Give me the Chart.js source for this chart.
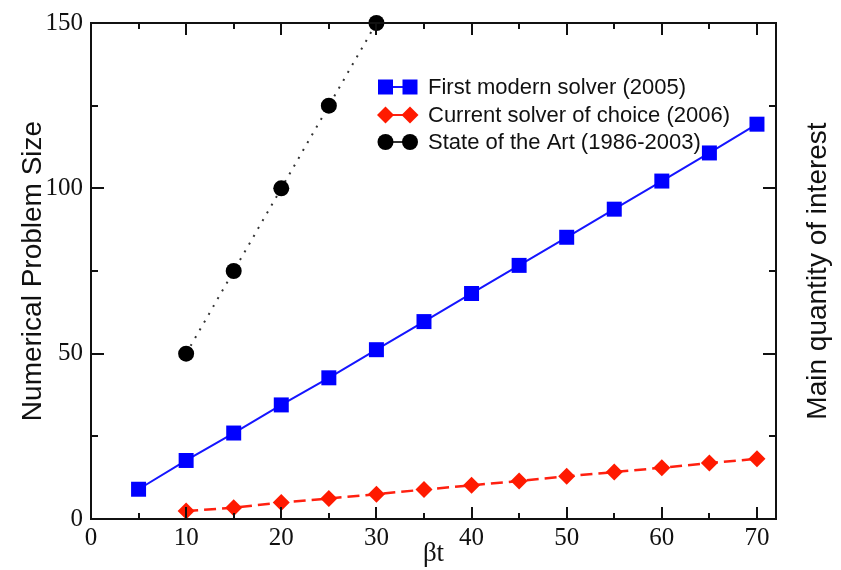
<!DOCTYPE html>
<html>
<head>
<meta charset="utf-8">
<script src="https://cdn.jsdelivr.net/npm/chart.js@4.4.0/dist/chart.umd.min.js"></script>
<style>
html, body { margin: 0; padding: 0; background: #fff; }
#wrap { width: 841px; height: 570px; }
</style>
</head>
<body>
<div id="wrap"><canvas id="myChart" width="841" height="570"></canvas></div>
<script>
// series data (beta*t on x)
var xFirst = [5, 10, 15, 20, 25, 30, 35, 40, 45, 50, 55, 60, 65, 70]
var yFirst = [9.0, 17.7, 26.0, 34.5, 42.7, 51.2, 59.7, 68.2, 76.7, 85.2, 93.7, 102.2, 110.7, 119.4]
var xCurrent = [10, 15, 20, 25, 30, 35, 40, 45, 50, 55, 60, 65, 70]
var yCurrent = [2.4, 3.4, 5.0, 6.2, 7.5, 8.9, 10.2, 11.5, 12.9, 14.2, 15.5, 16.9, 18.2]
var xState = [10, 15, 20, 25, 30]
var yState = [50, 75, 100, 125, 150]
var seriesNames = ['First modern solver (2005)', 'Current solver of choice (2006)', 'State of the Art (1986-2003)']

// axis ticks
var xTicks = [0, 10, 20, 30, 40, 50, 60, 70]
var xMinor = [5, 15, 25, 35, 45, 55, 65]
var yTicks = [0, 50, 100, 150]
var yMinor = [25, 75, 125]

var sans = "'Liberation Sans', Arial, sans-serif"
var serif = "'Liberation Serif', 'Times New Roman', serif"

function toPoints(xs, ys){
    return xs.map(function(x, i){ return {x: x, y: ys[i]} })
}

// draws one marker shape, used for the legend
function marker(ctx, shape, x, y, color){
    ctx.fillStyle = color
    ctx.beginPath()
    if (shape === 'rect') {
        ctx.rect(x - 7.5, y - 7.5, 15, 15)
    } else if (shape === 'rectRot') {
        ctx.moveTo(x, y - 8.5); ctx.lineTo(x + 8.5, y); ctx.lineTo(x, y + 8.5); ctx.lineTo(x - 8.5, y)
        ctx.closePath()
    } else {
        ctx.arc(x, y, 8, 0, Math.PI * 2)
    }
    ctx.fill()
}

// frame, inward tick marks, legend box and right-hand title
var decorations = {
    id: 'decorations',
    afterDraw: function(chart){
        var ctx = chart.ctx
        var a = chart.chartArea
        var xs = chart.scales.x
        var ys = chart.scales.y
        ctx.save()
        ctx.strokeStyle = '#111'
        ctx.lineWidth = 2
        ctx.strokeRect(a.left, a.top, a.right - a.left, a.bottom - a.top)

        ctx.beginPath()
        function xTick(v, len){
            var px = Math.round(xs.getPixelForValue(v))
            ctx.moveTo(px, a.bottom); ctx.lineTo(px, a.bottom - len)
            ctx.moveTo(px, a.top); ctx.lineTo(px, a.top + len)
        }
        function yTick(v, len){
            var py = Math.round(ys.getPixelForValue(v))
            ctx.moveTo(a.left, py); ctx.lineTo(a.left + len, py)
            ctx.moveTo(a.right, py); ctx.lineTo(a.right - len, py)
        }
        xTicks.forEach(function(v){ xTick(v, 12) })
        xMinor.forEach(function(v){ xTick(v, 6) })
        yTicks.forEach(function(v){ yTick(v, 13) })
        yMinor.forEach(function(v){ yTick(v, 7) })
        ctx.stroke()

        // legend
        var rows = [87, 115, 142]
        chart.data.datasets.forEach(function(ds, i){
            var y = rows[i]
            ctx.strokeStyle = ds.borderColor
            ctx.lineWidth = 2
            ctx.setLineDash([])
            ctx.beginPath()
            ctx.moveTo(385, y); ctx.lineTo(410, y)
            ctx.stroke()
            marker(ctx, ds.pointStyle, 385.5, y, ds.pointBackgroundColor)
            marker(ctx, ds.pointStyle, 410, y, ds.pointBackgroundColor)
            ctx.fillStyle = '#111'
            ctx.font = '22px ' + sans
            ctx.textBaseline = 'middle'
            ctx.textAlign = 'left'
            ctx.fillText(ds.label, 428, y + 1)
        })

        // right axis title, reads bottom to top
        ctx.translate(818, (a.top + a.bottom) / 2)
        ctx.rotate(-Math.PI / 2)
        ctx.font = '28px ' + sans
        ctx.textAlign = 'center'
        ctx.textBaseline = 'middle'
        ctx.fillStyle = '#111'
        ctx.fillText('Main quantity of interest', 0, 0)
        ctx.restore()
    }
}

var ctx = document.getElementById('myChart')
var myChart = new Chart(ctx, {
    type: 'scatter',
    data: {
        datasets: [{
            label: seriesNames[0],
            data: toPoints(xFirst, yFirst),
            showLine: true,
            borderColor: '#1515ff',
            borderWidth: 2,
            pointStyle: 'rect',
            pointRadius: 10.6,
            pointBackgroundColor: '#0000ff',
            pointBorderWidth: 0,
            clip: false
        }, {
            label: seriesNames[1],
            data: toPoints(xCurrent, yCurrent),
            showLine: true,
            borderColor: '#ff2010',
            borderWidth: 2.5,
            borderDash: [12, 6],
            pointStyle: 'rectRot',
            pointRadius: 8.5,
            pointBackgroundColor: '#ff1a00',
            pointBorderWidth: 0,
            clip: false
        }, {
            label: seriesNames[2],
            data: toPoints(xState, yState),
            showLine: true,
            borderColor: '#333',
            borderWidth: 2,
            borderDash: [2, 7],
            pointStyle: 'circle',
            pointRadius: 8,
            pointBackgroundColor: '#000',
            pointBorderWidth: 0,
            clip: false
        }]
    },
    options: {
        responsive: false,
        animation: false,
        devicePixelRatio: 1,
        layout: { padding: { top: 19, left: 0, right: 0, bottom: 0 } },
        plugins: {
            legend: { display: false },
            tooltip: { enabled: false }
        },
        scales: {
            x: {
                type: 'linear',
                min: 0,
                max: 72,
                afterBuildTicks: function(scale){ scale.ticks = xTicks.map(function(v){ return {value: v} }) },
                afterFit: function(scale){ scale.height = 51 },
                grid: { display: false, drawTicks: false },
                border: { display: false },
                ticks: { font: { family: serif, size: 25 }, color: '#111', padding: 4, maxRotation: 0 },
                title: { display: true, text: 'βt', font: { family: serif, size: 27 }, color: '#111', padding: 0 }
            },
            y: {
                type: 'linear',
                min: 0,
                max: 150,
                afterBuildTicks: function(scale){ scale.ticks = yTicks.map(function(v){ return {value: v} }) },
                afterFit: function(scale){ scale.width = 91 },
                grid: { display: false, drawTicks: false },
                border: { display: false },
                ticks: { font: { family: serif, size: 25 }, color: '#111', padding: 8 },
                title: { display: true, text: 'Numerical Problem Size', font: { family: sans, size: 28 }, color: '#111', padding: { top: 16, bottom: 0 } }
            },
            y2: {
                type: 'linear',
                position: 'right',
                min: 0,
                max: 150,
                afterFit: function(scale){ scale.width = 65 },
                grid: { display: false, drawTicks: false },
                border: { display: false },
                ticks: { display: false }
            }
        }
    },
    plugins: [decorations]
});
</script>
</body>
</html>
